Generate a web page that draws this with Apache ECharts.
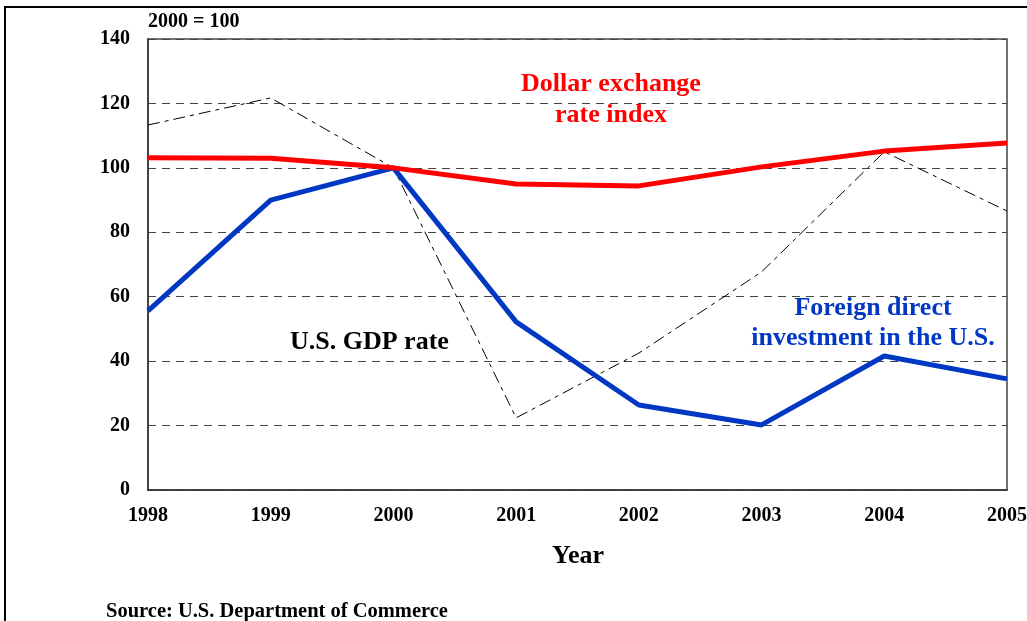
<!DOCTYPE html>
<html>
<head>
<meta charset="utf-8">
<script src="https://cdn.jsdelivr.net/npm/echarts@6/dist/echarts.min.js"></script>
<style>
html,body{margin:0;padding:0;background:#fff;}
#chart{width:1027px;height:621px;}
</style>
</head>
<body>
<div id="chart"></div>
<script>
const years = ['1998','1999','2000','2001','2002','2003','2004','2005'];
const dollarIndex = [103.1, 103.0, 100.0, 95.0, 94.4, 100.3, 105.2, 107.7];
const fdiIndex = [55.6, 90.0, 100.0, 52.2, 26.4, 20.2, 41.6, 34.5];
const gdpIndex = [113.3, 121.7, 100.0, 22.4, 42.5, 67.7, 105.0, 86.6];
const yTicks = {min: 0, max: 140, interval: 20};

const FONT = '"Liberation Serif", "Times New Roman", serif';
const chart = echarts.init(document.getElementById('chart'), null, {renderer: 'canvas'});
function txt(x, y, s, size, color, align) {
  return {type: 'text', x: x, y: y, silent: true,
    style: {text: s, font: 'bold ' + size + 'px ' + FONT, fill: color, align: align || 'left', verticalAlign: 'middle'}};
}
chart.setOption({
  backgroundColor: '#fff',
  animation: false,
  grid: {left: 148, right: 20, top: 39, bottom: 131, show: true, borderColor: '#444', borderWidth: 1.5,
         containLabel: false, outerBoundsMode: 'none'},
  xAxis: {
    type: 'category', data: years, boundaryGap: false,
    axisLine: {show: true, lineStyle: {color: '#333', width: 1.5}},
    axisTick: {show: false},
    axisLabel: {fontFamily: FONT, fontWeight: 'bold', fontSize: 20, color: '#000', margin: 16, showMaxLabel: true},
    splitLine: {show: false}
  },
  yAxis: {
    type: 'value', min: yTicks.min, max: yTicks.max, interval: yTicks.interval,
    axisLine: {show: true, lineStyle: {color: '#333', width: 1.5}},
    axisTick: {show: false},
    axisLabel: {fontFamily: FONT, fontWeight: 'bold', fontSize: 20, color: '#000', margin: 18},
    splitLine: {show: true, lineStyle: {color: '#444', type: [8, 6], width: 1}}
  },
  series: [
    {name: 'U.S. GDP rate', type: 'line', data: gdpIndex, symbol: 'none', z: 2,
     lineStyle: {color: '#000', width: 1, type: [12, 5, 4, 5]}},
    {name: 'Foreign direct investment in the U.S.', type: 'line', data: fdiIndex, symbol: 'none', z: 3,
     lineStyle: {color: '#0038c4', width: 5}},
    {name: 'Dollar exchange rate index', type: 'line', data: dollarIndex, symbol: 'none', z: 4,
     lineStyle: {color: '#ff0000', width: 5}}
  ],
  graphic: [
    {type: 'rect', shape: {x: 5, y: 7, width: 1100, height: 700}, style: {fill: 'none', stroke: '#000', lineWidth: 2}, silent: true},
    txt(148, 22, '2000 = 100', 20, '#000'),
    txt(611, 84, 'Dollar exchange', 26, '#ff0000', 'center'),
    txt(611, 115, 'rate index', 26, '#ff0000', 'center'),
    txt(290, 342, 'U.S. GDP rate', 26, '#000'),
    txt(873, 308, 'Foreign direct', 26, '#0038c4', 'center'),
    txt(873, 338, 'investment in the U.S.', 26, '#0038c4', 'center'),
    txt(578, 556, 'Year', 26, '#000', 'center'),
    txt(106, 612, 'Source: U.S. Department of Commerce', 20.5, '#000')
  ]
});
</script>
</body>
</html>
